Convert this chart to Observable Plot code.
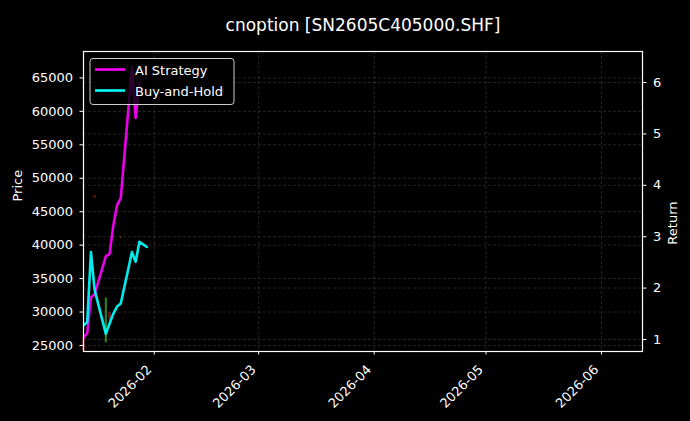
<!DOCTYPE html>
<html><head><meta charset="utf-8">
<script src="https://cdn.jsdelivr.net/npm/d3@7"></script>
<script src="https://cdn.jsdelivr.net/npm/@observablehq/plot@0.6"></script>
<style>
html,body{margin:0;padding:0;background:#000;}
#chart svg{display:block;}
</style></head><body><div id="chart"></div>
<script>
const title = "cnoption [SN2605C405000.SHF]";
const dates = ["2026-01-13","2026-01-14","2026-01-15","2026-01-16","2026-01-19","2026-01-20","2026-01-21","2026-01-22","2026-01-23","2026-01-26","2026-01-27","2026-01-28","2026-01-29","2026-01-30"];
const aiStrategy = [1.04, 1.12, 1.82, 1.88, 2.62, 2.66, 3.22, 3.61, 3.75, 6.30, 5.31, 6.00];
const buyAndHold = [1.27, 1.34, 2.70, 1.96, 1.11, 1.31, 1.50, 1.64, 1.70, 2.70, 2.51, 2.90, 2.85, 2.80];
const candleDates = ["2026-01-13","2026-01-16","2026-01-19","2026-01-20","2026-01-23"];
const candleLow  = [24100, 47050, 25400, 28800, 41000];
const candleHigh = [26300, 47350, 32100, 29900, 41250];
const candleUp   = [false, false, true, false, false];
const priceTicks = [25000,30000,35000,40000,45000,50000,55000,60000,65000];
const returnTicks = [1,2,3,4,5,6];
const monthTicks = ["2026-02-01","2026-03-01","2026-04-01","2026-05-01","2026-06-01"];
const seriesNames = ["AI Strategy","Buy-and-Hold"];
const seriesColors = ["#ff00ff","#00ffff"];
const xDomain = ["2026-01-13","2026-06-12"];
const priceDomain = [24100, 68950];
const returnDomain = [0.766, 6.604];

const toR = p => returnDomain[0] + (p - priceDomain[0]) / (priceDomain[1] - priceDomain[0]) * (returnDomain[1] - returnDomain[0]);
const fromR = r => priceDomain[0] + (r - returnDomain[0]) / (returnDomain[1] - returnDomain[0]) * (priceDomain[1] - priceDomain[0]);
const D = s => new Date(s + "T00:00:00Z");

const lines = [];
[aiStrategy, buyAndHold].forEach((vals, k) => vals.forEach((v, i) => lines.push({date: D(dates[i]), value: v, series: seriesNames[k]})));
const candles = candleDates.map((d, i) => ({date: D(d), low: toR(candleLow[i]), high: toR(candleHigh[i]), up: candleUp[i]}));

const gridStyle = {stroke: "#9a9a9a", strokeOpacity: 0.4, strokeDasharray: "3,2", strokeWidth: 0.6};

const chart = Plot.plot({
  width: 690, height: 421,
  marginLeft: 83, marginRight: 48, marginTop: 51, marginBottom: 70,
  style: {background: "#000", color: "#fff", fontFamily: "DejaVu Sans, sans-serif", fontSize: "13px"},
  x: {type: "utc", domain: xDomain.map(D)},
  y: {domain: returnDomain},
  color: {domain: seriesNames, range: seriesColors},
  marks: [
    Plot.gridX(monthTicks.map(D), gridStyle),
    Plot.gridY(priceTicks.map(toR), gridStyle),
    Plot.gridY(returnTicks, gridStyle),
    Plot.ruleX(candles, {x: "date", y1: "low", y2: "high", stroke: d => d.up ? "#3f9a2a" : "#b01818", strokeWidth: 2.2, strokeOpacity: 0.8}),
    Plot.line(lines, {x: "date", y: "value", z: "series", stroke: "series", strokeWidth: 2.6, strokeOpacity: 0.92, clip: true}),
    Plot.axisY(priceTicks.map(toR), {anchor: "left", tickSize: 3.5, tickPadding: 7, tickFormat: d => String(Math.round(fromR(d) / 100) * 100), label: null}),
    Plot.axisY(returnTicks, {anchor: "right", tickSize: 3.5, tickPadding: 7, tickFormat: d => String(d), label: null}),
    Plot.axisX(monthTicks.map(D), {anchor: "bottom", tickSize: 3.5, text: null, label: null}),
    Plot.axisX(monthTicks.map(D), {anchor: "bottom", tickSize: 0, tickPadding: 16, dx: -5, tickRotate: -45, tickFormat: d3.utcFormat("%Y-%m"), label: null}),
    Plot.frame({stroke: "#fff", strokeWidth: 1.2}),
    Plot.text([title], {frameAnchor: "top", dy: -33, fontSize: 17, fill: "#fff"}),
    Plot.text(["Price"], {frameAnchor: "left", dx: -66, rotate: -90, fill: "#fff"}),
    Plot.text(["Return"], {frameAnchor: "right", dx: 30, rotate: -90, fill: "#fff"})
  ]
});

// legend
const svg = d3.select(chart);
const lg = svg.append("g").attr("font-family", "DejaVu Sans, sans-serif").attr("font-size", 13).attr("text-anchor", "start");
lg.append("rect").attr("x", 90).attr("y", 58.5).attr("width", 144).attr("height", 46).attr("rx", 3)
  .attr("fill", "#000").attr("fill-opacity", 0.8).attr("stroke", "#cccccc").attr("stroke-width", 1);
seriesNames.forEach((name, i) => {
  const y = 69.5 + i * 21;
  lg.append("line").attr("x1", 95).attr("x2", 125).attr("y1", y).attr("y2", y)
    .attr("stroke", seriesColors[i]).attr("stroke-width", 2.6);
  lg.append("text").attr("x", 135).attr("y", y + 5).attr("fill", "#fff").attr("text-anchor", "start").text(name);
});
document.getElementById("chart").appendChild(chart);
</script></body></html>
